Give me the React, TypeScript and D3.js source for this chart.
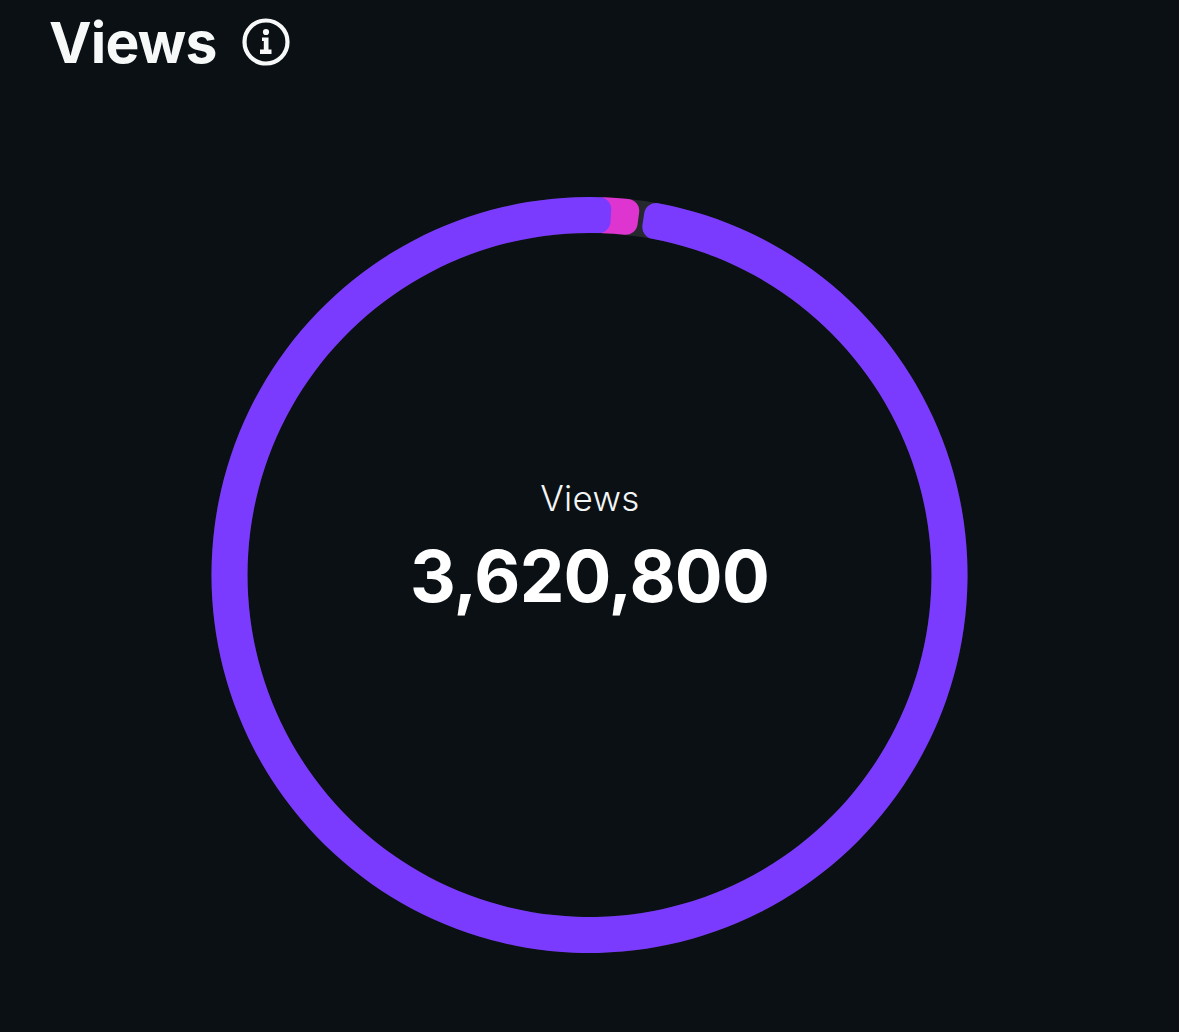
// App.tsx
import React, { useEffect, useRef } from "react";
import * as d3 from "d3";

const seriesNames = ["Organic", "Paid"];
const seriesValues = [3568600, 52200];
const seriesColors = ["#7b3bff", "#df35d0"];
const totalLabel = "Views";
const totalValue = 3620800;

const App = () => {
  const ref = useRef<SVGSVGElement>(null);

  useEffect(() => {
    document.body.style.margin = "0";
    document.body.style.background = "#0b1015";

    const width = 1179;
    const height = 1032;
    const cx = 589.5;
    const cy = 575;
    const outer = 378;
    const inner = 342;
    const deg = Math.PI / 180;

    const svg = d3.select(ref.current);
    svg.selectAll("*").remove();

    svg.append("rect").attr("width", width).attr("height", height).attr("fill", "#0b1015");

    const g = svg.append("g").attr("transform", `translate(${cx},${cy})`);
    const arc = d3.arc<any>().innerRadius(inner).outerRadius(outer);

    // grey track, only shows in the gap between the two slices
    g.append("path")
      .attr("d", arc({ startAngle: 0, endAngle: 2 * Math.PI }))
      .attr("fill", "#25282d");

    // first slice starts just past 12 o'clock, in the order the picture wraps
    const start = 8.6 * deg;
    const slices = d3
      .pie<number>()
      .sort(null)
      .startAngle(start)
      .endAngle(start + 2 * Math.PI)(seriesValues);

    const rounded = d3.arc<any>().innerRadius(inner).outerRadius(outer).cornerRadius(12);

    // second slice goes first, its start is tucked under the end of the first
    g.append("path")
      .attr("d", rounded({ startAngle: slices[1].startAngle - 3 * deg, endAngle: slices[1].endAngle - 0.8 * deg }))
      .attr("fill", seriesColors[1]);
    g.append("path")
      .attr("d", rounded({ startAngle: slices[0].startAngle, endAngle: slices[0].endAngle }))
      .attr("fill", seriesColors[0]);

    // center label
    svg.append("text")
      .attr("x", 590)
      .attr("y", 511)
      .attr("text-anchor", "middle")
      .attr("font-family", "Inter")
      .attr("font-weight", 300)
      .attr("font-size", 35)
      .attr("letter-spacing", 0.3)
      .attr("fill", "#f4f6f6")
      .text(totalLabel);

    svg.append("text")
      .attr("x", 589.5)
      .attr("y", 602)
      .attr("text-anchor", "middle")
      .attr("font-family", "Inter")
      .attr("font-weight", 700)
      .attr("font-size", 71)
      .attr("letter-spacing", -0.8)
      .attr("fill", "#ffffff")
      .text(d3.format(",")(totalValue));

    // title
    svg.append("text")
      .attr("x", 49)
      .attr("y", 63)
      .attr("font-family", "Inter")
      .attr("font-weight", 700)
      .attr("font-size", 57)
      .attr("letter-spacing", -0.8)
      .attr("fill", "#f7f9f9")
      .text("Views");

    // info icon
    const icon = svg.append("g").attr("transform", "translate(266,42)");
    icon.append("circle").attr("r", 21.5).attr("fill", "none").attr("stroke", "#f7f9f9").attr("stroke-width", 4.2);
    icon.append("circle").attr("cy", -10).attr("r", 3.1).attr("fill", "#f7f9f9");
    icon.append("path")
      .attr("d", "M-4 -4.5H2.5V7.5H5.5V12H-6V7.5H-2.2V-1H-4Z")
      .attr("fill", "#f7f9f9");
  }, []);

  return <svg ref={ref} width={1179} height={1032} style={{ display: "block" }} data-series={seriesNames.join(",")} />;
};

export default App;
